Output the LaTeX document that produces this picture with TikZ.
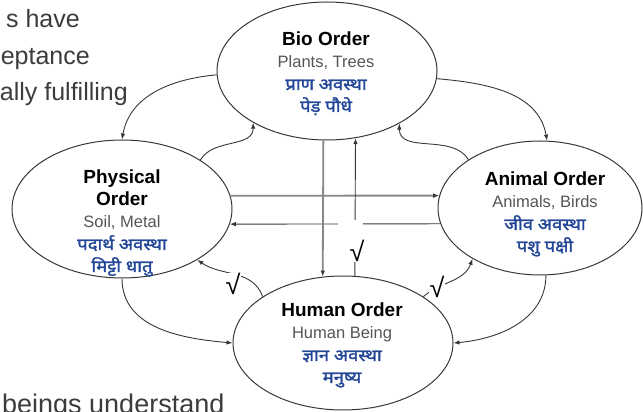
\documentclass[tikz,border=0pt]{standalone}
\usepackage{fontspec}
\setmainfont{Liberation Sans}
\newfontfamily\hindi[Script=Devanagari,FakeBold=1.6,FakeStretch=1.12]{Noto Sans}
\usetikzlibrary{shapes.geometric,arrows.meta}
\definecolor{hblue}{RGB}{35,70,150}
\definecolor{subgray}{RGB}{85,85,85}
\definecolor{linec}{RGB}{55,55,55}
\definecolor{heavygray}{RGB}{135,135,135}
\definecolor{sidetext}{RGB}{60,60,60}
\begin{document}
\begin{tikzpicture}[x=1pt,y=1pt,
  order/.style={ellipse,draw=linec,line width=1pt,inner sep=0pt,minimum width=220pt,minimum height=138pt},
  otext/.style={align=center,anchor=base,inner sep=0pt,font=\fontsize{16.5}{22}\selectfont},
  conn/.style={draw=linec,line width=0.9pt,-{Latex[length=6pt,width=4.5pt]}},
  heavyconn/.style={draw=heavygray,line width=1.8pt,-{Latex[length=6pt,width=4.5pt,color=linec]}},
  tick/.style={font=\fontsize{27}{27}\selectfont,fill=white,inner sep=0.5pt,text=black},
  side/.style={font=\fontsize{25}{30}\selectfont,text=sidetext,inner sep=0pt}
]
\useasboundingbox (0,0) rectangle (643,412);
\newcommand{\ttl}[1]{{\bfseries\fontsize{19}{22}\selectfont #1}}
\newcommand{\sub}[1]{{\color{subgray}#1}}
\newcommand{\hin}[1]{{\hindi\fontsize{16.5}{22}\selectfont\color{hblue}#1}}

% side text
\node[side,anchor=base east] (s1) at (80,384) {s have};
\node[side,anchor=base east] (s2) at (90,347) {eptance};
\node[side,anchor=base east] (s3) at (128,311) {ally fulfilling};
\node[side,anchor=base west,font=\fontsize{27}{30}\selectfont] (s4) at (2,-2) {beings understand};

% ellipses
\node[order] (bio) at (327,341) {};
\node[order] (phy) at (122,203) {};
\node[order,minimum width=204pt,minimum height=134pt] (ani) at (540,204) {};
\node[order,minimum height=134pt] (hum) at (343,69) {};

% texts (base = baseline of last line)
\node[otext] (biot) at (326,300) {\ttl{Bio Order}\\\sub{Plants, Trees}\\\hin{प्राण अवस्था}\\\hin{पेड़ पौधे}};
\node[otext] (phyt) at (122,140) {\ttl{Physical}\\\ttl{Order}\\\sub{Soil, Metal}\\\hin{पदार्थ अवस्था}\\\hin{मिट्टी धातु}};
\node[otext] (anit) at (545,160) {\ttl{Animal Order}\\\sub{Animals, Birds}\\\hin{जीव अवस्था}\\\hin{पशु पक्षी}};
\node[otext] (humt) at (342,29) {\ttl{Human Order}\\\sub{Human Being}\\\hin{ज्ञान अवस्था}\\\hin{मनुष्य}};

% curved connectors
\draw[conn] (bio.182) to[out=185,in=80] (phy.90);
\draw[conn] (phy.32) to[out=60,in=270] (bio.215);
\draw[conn] (bio.356) to[out=-5,in=100] (ani.84);
\draw[conn] (ani.146) to[out=120,in=270] (bio.324);
\draw[conn] (phy.270) to[out=270,in=175] (hum.180);
\draw[conn] (hum.150) to[out=110,in=-35] (phy.326);
\draw[conn] (ani.275) to[out=270,in=5] (hum.0);
\draw[conn] (hum.30) to[out=40,in=250] (ani.217);

% straight connectors
\draw[heavyconn] (phy.7) -- (ani.173);
\draw[conn] (ani.189) -- (phy.-8);
\draw[heavyconn] (bio.-93) -- (hum.107);
\draw[conn] (hum.80) -- (bio.-67);

% gap and ticks
\fill[white] (338,171) rectangle (363,192);
\node[tick] (c1) at (233,128) {√};
\node[tick] (c2) at (437,125) {√};
\node[tick] (c3) at (357,161) {√};
\end{tikzpicture}
\end{document}
